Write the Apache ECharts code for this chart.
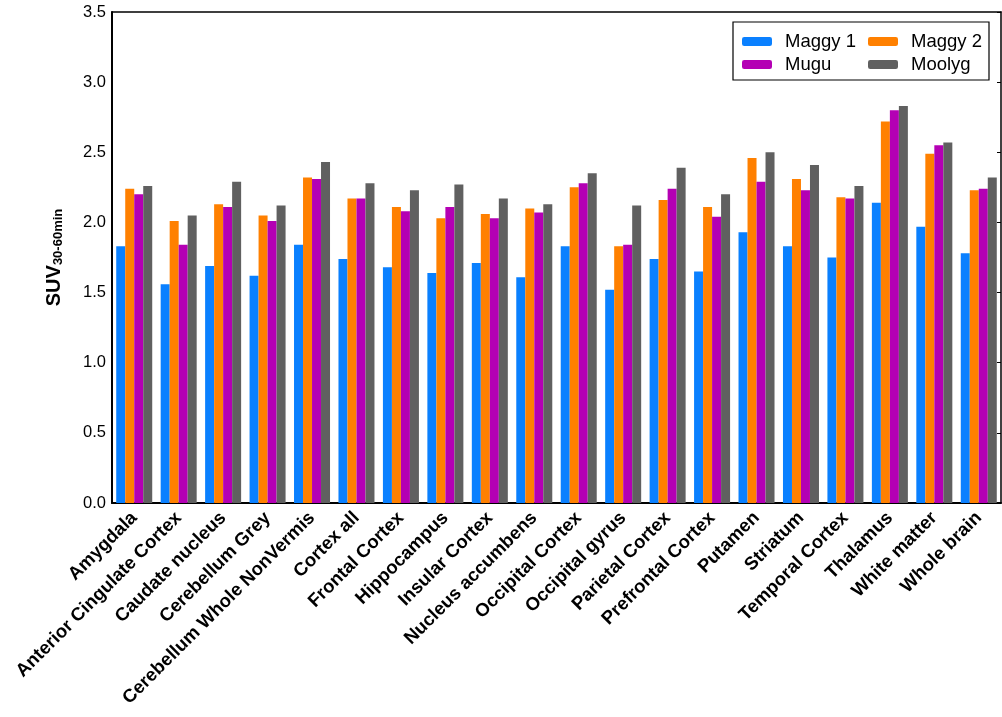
<!DOCTYPE html>
<html>
<head>
<meta charset="utf-8">
<script src="https://cdn.jsdelivr.net/npm/echarts@6/dist/echarts.min.js"></script>
<style>
  html, body { margin: 0; padding: 0; background: #fff; }
  #chart { width: 1002px; height: 717px; }
</style>
</head>
<body>
<div id="chart"></div>
<script>
// regions along the x axis
const regions = ['Amygdala', 'Anterior Cingulate Cortex', 'Caudate nucleus', 'Cerebellum Grey',
  'Cerebellum Whole NonVermis', 'Cortex all', 'Frontal Cortex', 'Hippocampus', 'Insular Cortex',
  'Nucleus accumbens', 'Occipital Cortex', 'Occipital gyrus', 'Parietal Cortex', 'Prefrontal Cortex',
  'Putamen', 'Striatum', 'Temporal Cortex', 'Thalamus', 'White matter', 'Whole brain'];

const maggy1 = [1.83, 1.56, 1.69, 1.62, 1.84, 1.74, 1.68, 1.64, 1.71, 1.61, 1.83, 1.52, 1.74, 1.65, 1.93, 1.83, 1.75, 2.14, 1.97, 1.78];
const maggy2 = [2.24, 2.01, 2.13, 2.05, 2.32, 2.17, 2.11, 2.03, 2.06, 2.10, 2.25, 1.83, 2.16, 2.11, 2.46, 2.31, 2.18, 2.72, 2.49, 2.23];
const mugu   = [2.20, 1.84, 2.11, 2.01, 2.31, 2.17, 2.08, 2.11, 2.03, 2.07, 2.28, 1.84, 2.24, 2.04, 2.29, 2.23, 2.17, 2.80, 2.55, 2.24];
const moolyg = [2.26, 2.05, 2.29, 2.12, 2.43, 2.28, 2.23, 2.27, 2.17, 2.13, 2.35, 2.12, 2.39, 2.20, 2.50, 2.41, 2.26, 2.83, 2.57, 2.32];

const yTicks = { min: 0, max: 3.5, interval: 0.5 };

const chart = echarts.init(document.getElementById('chart'));

const font = 'Liberation Sans, Arial, sans-serif';

const bar = (name, data, color) => ({
  name: name,
  type: 'bar',
  data: data,
  barGap: '0%',
  barCategoryGap: '19%',
  itemStyle: { color: color },
  emphasis: { disabled: true }
});

const legendText = { color: '#000', fontSize: 18.5, fontFamily: font, padding: [0, 0, 0, 8] };

chart.setOption({
  animation: false,
  grid: { left: 112, right: 1, top: 12, bottom: 214 },
  legend: [
    {
      data: ['Maggy 1', 'Mugu'],
      orient: 'vertical',
      left: 737, top: 27,
      itemWidth: 30, itemHeight: 9, itemGap: 4,
      textStyle: legendText
    },
    {
      data: ['Maggy 2', 'Moolyg'],
      orient: 'vertical',
      left: 863, top: 27,
      itemWidth: 30, itemHeight: 9, itemGap: 4,
      textStyle: legendText
    }
  ],
  graphic: [{
    type: 'rect',
    shape: { x: 733, y: 22, width: 256, height: 58 },
    style: { fill: 'none', stroke: '#000', lineWidth: 1.2 },
    z: 100
  }],
  xAxis: [
    {
      type: 'category',
      data: regions,
      axisLine: { onZero: false, lineStyle: { color: '#000', width: 2 } },
      axisTick: { inside: true, alignWithLabel: true, length: 4, lineStyle: { color: '#000' } },
      axisLabel: {
        rotate: 45, interval: 0, margin: 12,
        color: '#000', fontSize: 18.5, fontWeight: 'bold',
        fontFamily: font
      }
    },
    {
      type: 'category',
      data: regions,
      position: 'top',
      axisLine: { onZero: false, lineStyle: { color: '#000', width: 1.5 } },
      axisTick: { inside: true, alignWithLabel: true, length: 4, lineStyle: { color: '#000' } },
      axisLabel: { show: false }
    }
  ],
  yAxis: [
    {
      type: 'value',
      min: yTicks.min, max: yTicks.max, interval: yTicks.interval,
      name: '{a|SUV}{b|30-60min}',
      nameLocation: 'middle',
      nameGap: 47,
      nameRotate: 90,
      nameTextStyle: {
        rich: {
          a: { fontSize: 20, fontWeight: 'bold', color: '#000', fontFamily: font },
          b: { fontSize: 13, fontWeight: 'bold', color: '#000', fontFamily: font, padding: [9, 0, 0, 0] }
        }
      },
      axisLine: { show: true, onZero: false, lineStyle: { color: '#000', width: 2 } },
      axisTick: { show: false },
      splitLine: { show: false },
      axisLabel: {
        color: '#000', fontSize: 16.5, margin: 6,
        fontFamily: font,
        formatter: v => v.toFixed(1)
      }
    },
    {
      type: 'value',
      position: 'right',
      min: yTicks.min, max: yTicks.max, interval: yTicks.interval,
      axisLine: { show: true, onZero: false, lineStyle: { color: '#000', width: 1.5 } },
      axisTick: { show: true, inside: true, length: 4, lineStyle: { color: '#000' } },
      splitLine: { show: false },
      axisLabel: { show: false }
    }
  ],
  series: [
    bar('Maggy 1', maggy1, '#0a80ff'),
    bar('Maggy 2', maggy2, '#ff8000'),
    bar('Mugu', mugu, '#b400b4'),
    bar('Moolyg', moolyg, '#606060')
  ]
});
</script>
</body>
</html>
